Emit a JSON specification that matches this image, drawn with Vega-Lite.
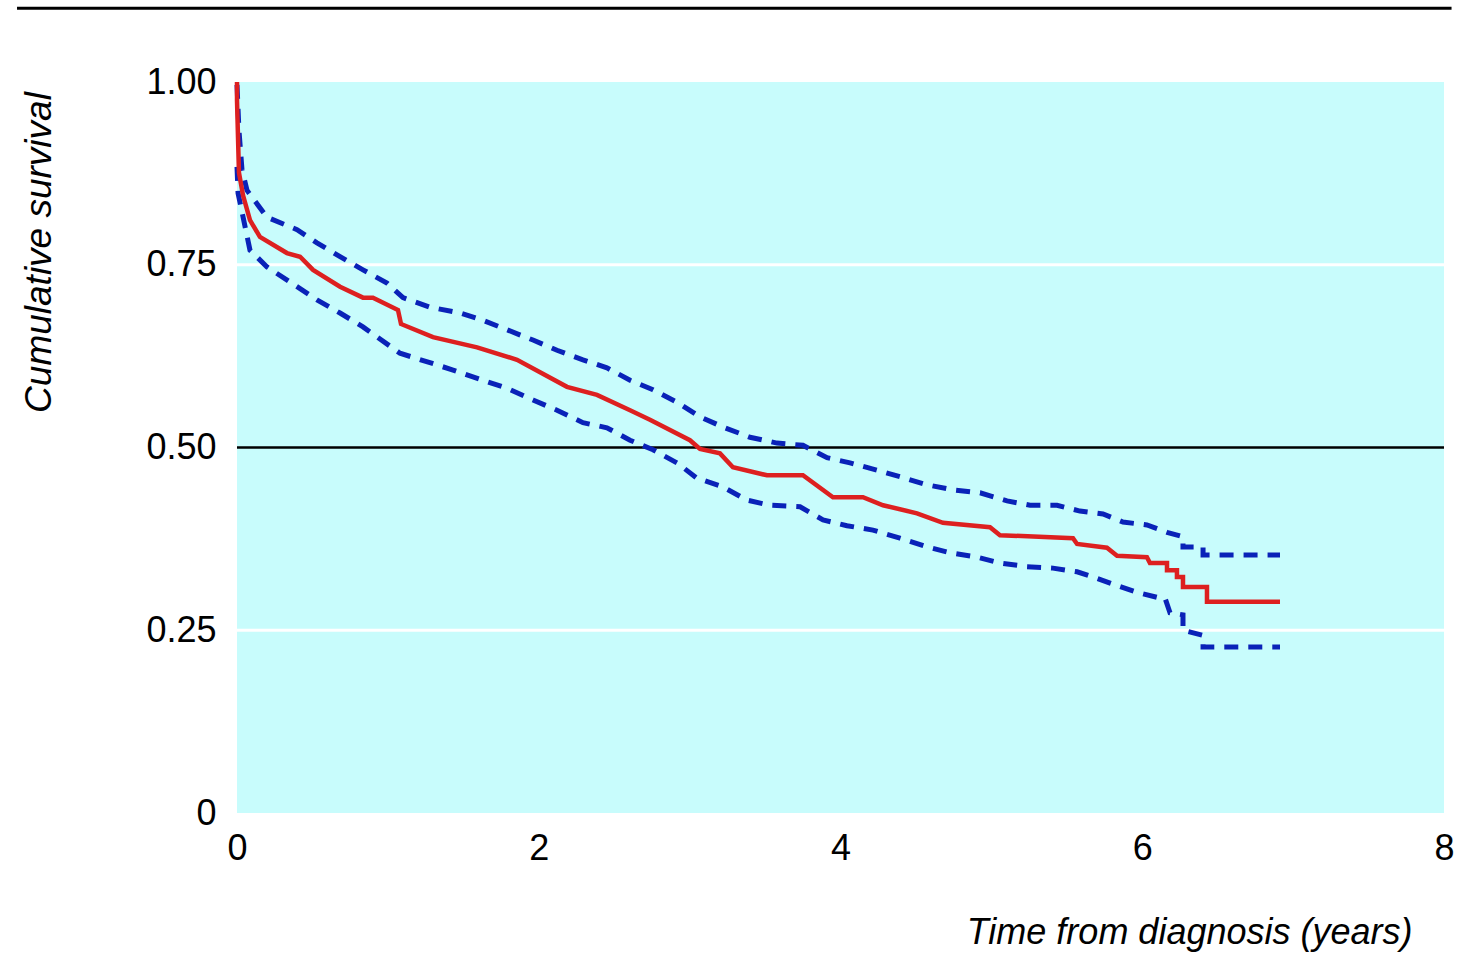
{
  "$schema": "https://vega.github.io/schema/vega-lite/v6.json",
  "autosize": {"type": "none"},
  "width": 1207,
  "height": 731,
  "padding": {"left": 237, "top": 82, "right": 16, "bottom": 148},
  "background": "white",
  "config": {
    "view": {"fill": "#c8fcfc", "stroke": null},
    "font": "Liberation Sans"
  },
  "datasets": {
    "km": [
      {"seq": 1, "t": 0, "s": 1.0},
      {"seq": 2, "t": 0, "s": 0.975},
      {"seq": 3, "t": 0.013, "s": 0.876},
      {"seq": 4, "t": 0.04, "s": 0.845},
      {"seq": 5, "t": 0.086, "s": 0.811},
      {"seq": 6, "t": 0.152, "s": 0.788},
      {"seq": 7, "t": 0.331, "s": 0.766},
      {"seq": 8, "t": 0.418, "s": 0.761},
      {"seq": 9, "t": 0.504, "s": 0.743},
      {"seq": 10, "t": 0.683, "s": 0.72},
      {"seq": 11, "t": 0.835, "s": 0.705},
      {"seq": 12, "t": 0.901, "s": 0.705},
      {"seq": 13, "t": 1.067, "s": 0.688},
      {"seq": 14, "t": 1.087, "s": 0.669},
      {"seq": 15, "t": 1.299, "s": 0.651},
      {"seq": 16, "t": 1.591, "s": 0.637},
      {"seq": 17, "t": 1.856, "s": 0.62},
      {"seq": 18, "t": 2.187, "s": 0.583},
      {"seq": 19, "t": 2.386, "s": 0.572},
      {"seq": 20, "t": 2.605, "s": 0.551},
      {"seq": 21, "t": 2.737, "s": 0.538},
      {"seq": 22, "t": 3.002, "s": 0.51},
      {"seq": 23, "t": 3.069, "s": 0.498},
      {"seq": 24, "t": 3.201, "s": 0.492},
      {"seq": 25, "t": 3.287, "s": 0.473},
      {"seq": 26, "t": 3.513, "s": 0.462},
      {"seq": 27, "t": 3.751, "s": 0.462},
      {"seq": 28, "t": 3.95, "s": 0.432},
      {"seq": 29, "t": 4.149, "s": 0.432},
      {"seq": 30, "t": 4.282, "s": 0.421},
      {"seq": 31, "t": 4.507, "s": 0.41},
      {"seq": 32, "t": 4.679, "s": 0.397},
      {"seq": 33, "t": 4.991, "s": 0.391},
      {"seq": 34, "t": 5.057, "s": 0.38},
      {"seq": 35, "t": 5.541, "s": 0.376},
      {"seq": 36, "t": 5.568, "s": 0.368},
      {"seq": 37, "t": 5.766, "s": 0.363},
      {"seq": 38, "t": 5.833, "s": 0.352},
      {"seq": 39, "t": 6.031, "s": 0.35},
      {"seq": 40, "t": 6.051, "s": 0.342},
      {"seq": 41, "t": 6.138, "s": 0.342},
      {"seq": 42, "t": 6.164, "s": 0.342},
      {"seq": 43, "t": 6.164, "s": 0.332},
      {"seq": 44, "t": 6.23, "s": 0.332},
      {"seq": 45, "t": 6.23, "s": 0.323},
      {"seq": 46, "t": 6.27, "s": 0.323},
      {"seq": 47, "t": 6.27, "s": 0.309},
      {"seq": 48, "t": 6.429, "s": 0.309},
      {"seq": 49, "t": 6.429, "s": 0.289},
      {"seq": 50, "t": 6.913, "s": 0.289}
    ],
    "upper": [
      {"seq": 1, "t": 0, "s": 0.996},
      {"seq": 2, "t": 0.013, "s": 0.934},
      {"seq": 3, "t": 0.033, "s": 0.88},
      {"seq": 4, "t": 0.066, "s": 0.852},
      {"seq": 5, "t": 0.199, "s": 0.815},
      {"seq": 6, "t": 0.398, "s": 0.798},
      {"seq": 7, "t": 0.53, "s": 0.78},
      {"seq": 8, "t": 0.683, "s": 0.761},
      {"seq": 9, "t": 0.835, "s": 0.743},
      {"seq": 10, "t": 0.994, "s": 0.725},
      {"seq": 11, "t": 1.1, "s": 0.705},
      {"seq": 12, "t": 1.279, "s": 0.692},
      {"seq": 13, "t": 1.478, "s": 0.684},
      {"seq": 14, "t": 1.63, "s": 0.674},
      {"seq": 15, "t": 1.79, "s": 0.661},
      {"seq": 16, "t": 1.962, "s": 0.647},
      {"seq": 17, "t": 2.121, "s": 0.633},
      {"seq": 18, "t": 2.293, "s": 0.62},
      {"seq": 19, "t": 2.452, "s": 0.609},
      {"seq": 20, "t": 2.605, "s": 0.592},
      {"seq": 21, "t": 2.757, "s": 0.579},
      {"seq": 22, "t": 2.916, "s": 0.562},
      {"seq": 23, "t": 3.069, "s": 0.542},
      {"seq": 24, "t": 3.221, "s": 0.528},
      {"seq": 25, "t": 3.4, "s": 0.514},
      {"seq": 26, "t": 3.579, "s": 0.506},
      {"seq": 27, "t": 3.751, "s": 0.503},
      {"seq": 28, "t": 3.911, "s": 0.486},
      {"seq": 29, "t": 4.063, "s": 0.479},
      {"seq": 30, "t": 4.242, "s": 0.469},
      {"seq": 31, "t": 4.394, "s": 0.46},
      {"seq": 32, "t": 4.573, "s": 0.449},
      {"seq": 33, "t": 4.746, "s": 0.442},
      {"seq": 34, "t": 4.925, "s": 0.438},
      {"seq": 35, "t": 5.104, "s": 0.427},
      {"seq": 36, "t": 5.256, "s": 0.421},
      {"seq": 37, "t": 5.435, "s": 0.421},
      {"seq": 38, "t": 5.587, "s": 0.413},
      {"seq": 39, "t": 5.74, "s": 0.409},
      {"seq": 40, "t": 5.872, "s": 0.398},
      {"seq": 41, "t": 6.031, "s": 0.394},
      {"seq": 42, "t": 6.164, "s": 0.384},
      {"seq": 43, "t": 6.27, "s": 0.378},
      {"seq": 44, "t": 6.27, "s": 0.364},
      {"seq": 45, "t": 6.403, "s": 0.364},
      {"seq": 46, "t": 6.403, "s": 0.353},
      {"seq": 47, "t": 6.913, "s": 0.353}
    ],
    "lower": [
      {"seq": 1, "t": 0, "s": 0.884},
      {"seq": 2, "t": 0.007, "s": 0.848},
      {"seq": 3, "t": 0.086, "s": 0.77},
      {"seq": 4, "t": 0.199, "s": 0.747},
      {"seq": 5, "t": 0.398, "s": 0.72},
      {"seq": 6, "t": 0.53, "s": 0.702},
      {"seq": 7, "t": 0.683, "s": 0.684},
      {"seq": 8, "t": 0.835, "s": 0.665},
      {"seq": 9, "t": 1.08, "s": 0.629},
      {"seq": 10, "t": 1.279, "s": 0.616},
      {"seq": 11, "t": 1.432, "s": 0.606},
      {"seq": 12, "t": 1.63, "s": 0.592},
      {"seq": 13, "t": 1.79, "s": 0.581},
      {"seq": 14, "t": 1.962, "s": 0.565},
      {"seq": 15, "t": 2.121, "s": 0.551},
      {"seq": 16, "t": 2.293, "s": 0.534},
      {"seq": 17, "t": 2.452, "s": 0.527},
      {"seq": 18, "t": 2.605, "s": 0.51},
      {"seq": 19, "t": 2.757, "s": 0.497},
      {"seq": 20, "t": 2.916, "s": 0.479},
      {"seq": 21, "t": 3.049, "s": 0.458},
      {"seq": 22, "t": 3.221, "s": 0.446},
      {"seq": 23, "t": 3.38, "s": 0.428},
      {"seq": 24, "t": 3.533, "s": 0.421},
      {"seq": 25, "t": 3.732, "s": 0.419},
      {"seq": 26, "t": 3.884, "s": 0.401},
      {"seq": 27, "t": 4.043, "s": 0.393},
      {"seq": 28, "t": 4.215, "s": 0.387},
      {"seq": 29, "t": 4.394, "s": 0.376},
      {"seq": 30, "t": 4.573, "s": 0.364},
      {"seq": 31, "t": 4.726, "s": 0.356},
      {"seq": 32, "t": 4.905, "s": 0.35},
      {"seq": 33, "t": 5.057, "s": 0.342},
      {"seq": 34, "t": 5.236, "s": 0.337},
      {"seq": 35, "t": 5.408, "s": 0.335},
      {"seq": 36, "t": 5.568, "s": 0.33},
      {"seq": 37, "t": 5.7, "s": 0.321},
      {"seq": 38, "t": 5.833, "s": 0.311},
      {"seq": 39, "t": 5.965, "s": 0.302},
      {"seq": 40, "t": 6.118, "s": 0.294},
      {"seq": 41, "t": 6.151, "s": 0.294},
      {"seq": 42, "t": 6.184, "s": 0.274},
      {"seq": 43, "t": 6.27, "s": 0.271},
      {"seq": 44, "t": 6.27, "s": 0.25},
      {"seq": 45, "t": 6.403, "s": 0.243},
      {"seq": 46, "t": 6.403, "s": 0.227},
      {"seq": 47, "t": 6.913, "s": 0.227}
    ],
    "grid": [
      {"y": 0.25},
      {"y": 0.75}
    ],
    "median": [
      {"y": 0.5}
    ],
    "topline": [
      {"x": -1.458, "x2": 8.05, "y": 1.101}
    ]
  },
  "layer": [
    {
      "data": {"name": "grid"},
      "mark": {"type": "rule", "color": "white", "strokeWidth": 3},
      "encoding": {
        "y": {
          "field": "y",
          "type": "quantitative",
          "scale": {"domain": [0, 1], "nice": false, "zero": false},
          "axis": {
            "values": [0, 0.25, 0.5, 0.75, 1],
            "labelExpr": "datum.value == 0 ? '0' : format(datum.value, '.2f')",
            "grid": false,
            "domain": false,
            "ticks": false,
            "labelFlush": false,
            "labelFontSize": 36,
            "labelColor": "black",
            "labelPadding": 21,
            "labelFont": "Liberation Sans",
            "title": "Cumulative survival",
            "titleFont": "Liberation Sans",
            "titleFontStyle": "italic",
            "titleFontWeight": "normal",
            "titleFontSize": 37,
            "titleColor": "black",
            "titleAngle": 270,
            "titleAlign": "center",
            "titleBaseline": "alphabetic",
            "titleX": -187,
            "titleY": 170
          }
        }
      }
    },
    {
      "data": {"name": "median"},
      "mark": {"type": "rule", "color": "black", "strokeWidth": 2.5},
      "encoding": {
        "y": {"field": "y", "type": "quantitative"}
      }
    },
    {
      "data": {"name": "topline"},
      "mark": {"type": "rule", "color": "black", "strokeWidth": 3, "clip": false},
      "encoding": {
        "x": {"field": "x", "type": "quantitative"},
        "x2": {"field": "x2"},
        "y": {"field": "y", "type": "quantitative"}
      }
    },
    {
      "data": {"name": "upper"},
      "mark": {"type": "line", "color": "#0a22b8", "strokeWidth": 5, "strokeDash": [14, 10]},
      "encoding": {
        "x": {
          "field": "t",
          "type": "quantitative",
          "scale": {"domain": [0, 8], "nice": false, "zero": false},
          "axis": {
            "values": [0, 2, 4, 6, 8],
            "format": "d",
            "labelFlush": false,
            "grid": false,
            "domain": false,
            "ticks": false,
            "labelFontSize": 36,
            "labelColor": "black",
            "labelPadding": 18,
            "labelFont": "Liberation Sans",
            "title": "Time from diagnosis (years)",
            "titleFont": "Liberation Sans",
            "titleFontStyle": "italic",
            "titleFontWeight": "normal",
            "titleFontSize": 36,
            "titleColor": "black",
            "titleAlign": "right",
            "titleAnchor": null,
            "titleBaseline": "alphabetic",
            "titleX": 1175,
            "titleY": 130
          }
        },
        "y": {"field": "s", "type": "quantitative"},
        "order": {"field": "seq"}
      }
    },
    {
      "data": {"name": "lower"},
      "mark": {"type": "line", "color": "#0a22b8", "strokeWidth": 5, "strokeDash": [14, 10]},
      "encoding": {
        "x": {"field": "t", "type": "quantitative"},
        "y": {"field": "s", "type": "quantitative"},
        "order": {"field": "seq"}
      }
    },
    {
      "data": {"name": "km"},
      "mark": {"type": "line", "color": "#dd2020", "strokeWidth": 4.5},
      "encoding": {
        "x": {"field": "t", "type": "quantitative"},
        "y": {"field": "s", "type": "quantitative"},
        "order": {"field": "seq"}
      }
    }
  ]
}
